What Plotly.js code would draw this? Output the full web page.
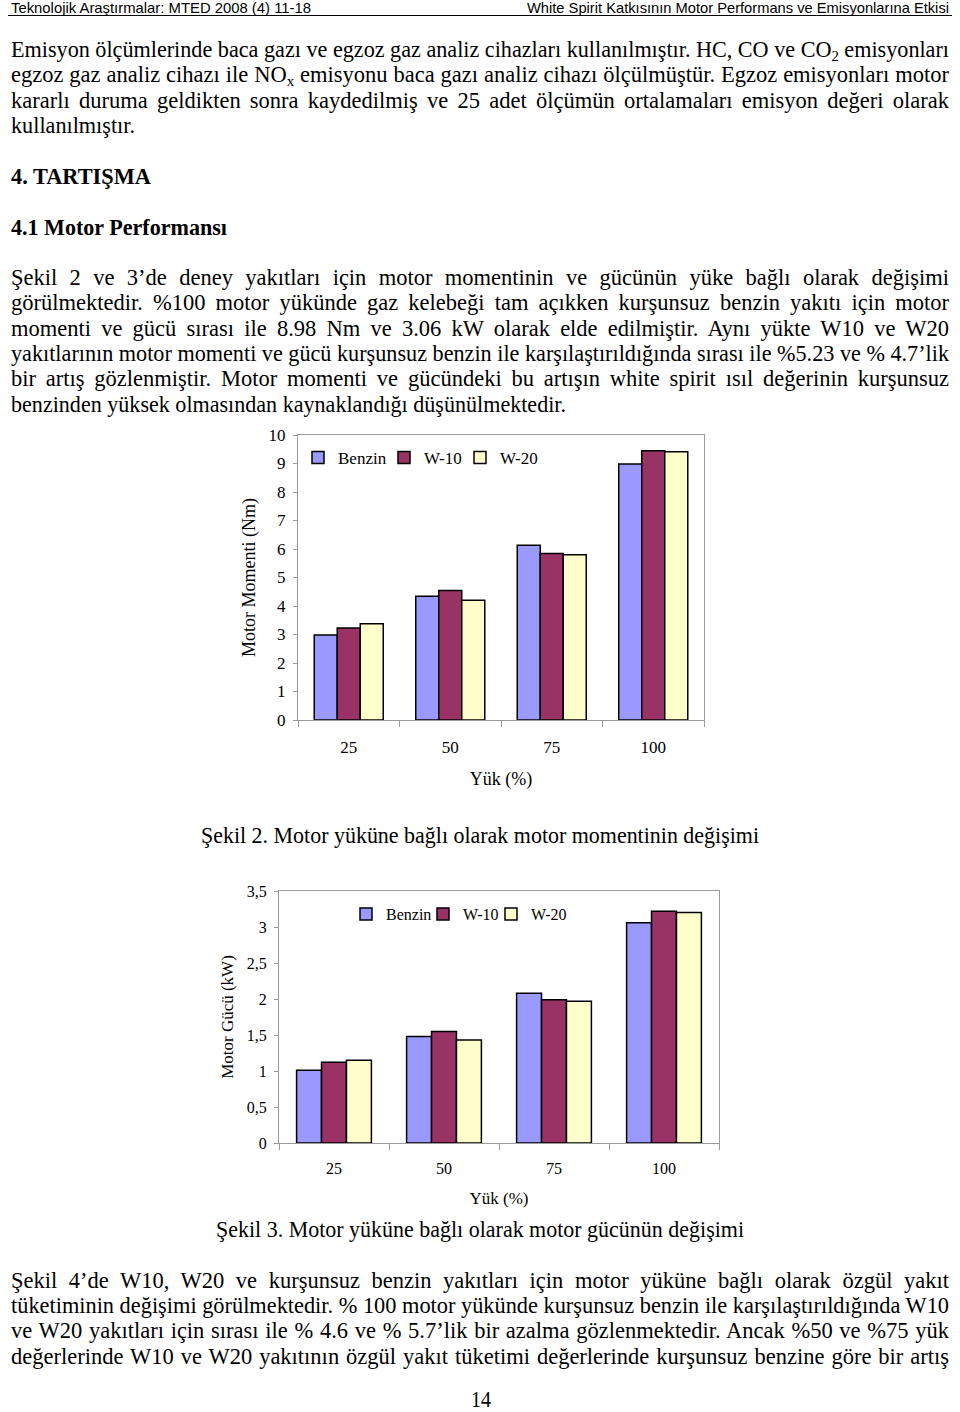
<!DOCTYPE html>
<html><head><meta charset="utf-8">
<script src="https://cdn.plot.ly/plotly-3.0.1.min.js"></script>
<style>
html,body{margin:0;padding:0;background:#fff;}
#page{position:relative;width:960px;height:1412px;overflow:hidden;background:#fff;}
.ln{position:absolute;white-space:nowrap;font-family:"Liberation Serif","Times New Roman",serif;font-size:22.5px;line-height:18px;color:#000;transform-origin:0 50%;}
.ln sub{font-size:15px;line-height:0;vertical-align:-4px;}
.hd{font-family:"Liberation Sans",Arial,sans-serif;font-size:14.5px;line-height:14px;}
.pn{line-height:14px;}
.chart{position:absolute;left:0;width:960px;}
</style></head>
<body><div id="page">
<div id="hline" style="position:absolute;left:8px;top:15px;width:944px;height:1px;background:#000;"></div>
<div id="chart1" class="chart" style="top:420px;height:380px;"></div>
<div id="chart2" class="chart" style="top:870px;height:345px;"></div>
</div>
<script>
// ---- data ----
const loads = ["25", "50", "75", "100"];
const seriesNames = ["Benzin", "W-10", "W-20"];
const seriesColors = ["#9999FF", "#993366", "#FFFFCC"];
const torqueBenzin = [2.98, 4.34, 6.13, 8.98];
const torqueW10 = [3.23, 4.54, 5.84, 9.45];
const torqueW20 = [3.38, 4.20, 5.80, 9.41];
const powerBenzin = [1.01, 1.48, 2.08, 3.06];
const powerW10 = [1.12, 1.55, 1.99, 3.22];
const powerW20 = [1.15, 1.43, 1.97, 3.20];

// ---- page text ----
// [html, centerY, left, width, justify, bold, cls]
const lines = [
 ["Teknolojik Araştırmalar: MTED 2008 (4) 11-18", 7.5, 11, 300, false, false, "hd"],
 ["White Spirit Katkısının Motor Performans ve Emisyonlarına Etkisi", 7.5, 527, 422, false, false, "hd"],
 ["Emisyon ölçümlerinde baca gazı ve egzoz gaz analiz cihazları kullanılmıştır. HC, CO ve CO<sub>2</sub> emisyonları", 50, 11, 938, true],
 ["egzoz gaz analiz cihazı ile NO<sub>x</sub> emisyonu baca gazı analiz cihazı ölçülmüştür. Egzoz emisyonları motor", 75, 11, 938, true],
 ["kararlı duruma geldikten sonra kaydedilmiş ve 25 adet ölçümün ortalamaları emisyon değeri olarak", 101, 11, 938, true],
 ["kullanılmıştır.", 126, 11, 124, false],
 ["4. TARTIŞMA", 177, 11, 140, false, true],
 ["4.1 Motor Performansı", 228, 11, 216, false, true],
 ["Şekil 2 ve 3’de deney yakıtları için motor momentinin ve gücünün yüke bağlı olarak değişimi", 278, 11, 938, true],
 ["görülmektedir. %100 motor yükünde gaz kelebeği tam açıkken kurşunsuz benzin yakıtı için motor", 303, 11, 938, true],
 ["momenti ve gücü sırası ile 8.98 Nm ve 3.06 kW olarak elde edilmiştir. Aynı yükte W10 ve W20", 329, 11, 938, true],
 ["yakıtlarının motor momenti ve gücü kurşunsuz benzin ile karşılaştırıldığında sırası ile %5.23 ve % 4.7’lik", 354, 11, 938, true],
 ["bir artış gözlenmiştir. Motor momenti ve gücündeki bu artışın white spirit ısıl değerinin kurşunsuz", 379, 11, 938, true],
 ["benzinden yüksek olmasından kaynaklandığı düşünülmektedir.", 405, 11, 555, false],
 ["Şekil 2. Motor yüküne bağlı olarak motor momentinin değişimi", 836, 201, 558, false],
 ["Şekil 3. Motor yüküne bağlı olarak motor gücünün değişimi", 1230, 216, 528, false],
 ["Şekil 4’de W10, W20 ve kurşunsuz benzin yakıtları için motor yüküne bağlı olarak özgül yakıt", 1281, 11, 938, true],
 ["tüketiminin değişimi görülmektedir. % 100 motor yükünde kurşunsuz benzin ile karşılaştırıldığında W10", 1306, 11, 938, true],
 ["ve W20 yakıtları için sırası ile % 4.6 ve % 5.7’lik bir azalma gözlenmektedir. Ancak %50 ve %75 yük", 1331, 11, 938, true],
 ["değerlerinde W10 ve W20 yakıtının özgül yakıt tüketimi değerlerinde kurşunsuz benzine göre bir artış", 1357, 11, 938, true],
 ["14", 1400, 471, 20, false, false, "pn"]
];
const page = document.getElementById('page');
const els = lines.map(function(l){
  const d = document.createElement('div');
  d.className = 'ln' + (l[6] ? ' ' + l[6] : '');
  d.innerHTML = l[0];
  if (l[5]) d.style.fontWeight = 'bold';
  d.style.left = l[2] + 'px';
  page.appendChild(d);
  return d;
});
function fit(){
  lines.forEach(function(l, i){
    const d = els[i];
    d.style.transform = 'none'; d.style.wordSpacing = '0px';
    const h = d.offsetHeight;
    d.style.top = (l[1] - h/2) + 'px';
    const w = d.getBoundingClientRect().width;
    const target = l[3];
    if (l[4]) {
      const n = (d.textContent.match(/ /g) || []).length;
      if (w < target && n > 0) { d.style.wordSpacing = ((target - w)/n) + 'px'; }
      else if (w > target) { d.style.transform = 'scaleX(' + (target/w) + ')'; }
    } else {
      d.style.transform = 'scaleX(' + (target/w) + ')';
    }
  });
}
fit();
if (document.fonts && document.fonts.ready) document.fonts.ready.then(fit);

// ---- charts ----
const FONT = "Liberation Serif, Times New Roman, serif";
const legendKeys = ['legend', 'legend2', 'legend3'];
function makeTraces(vals){
  return vals.map(function(v, i){
    return {type:'bar', x:loads, y:v, name:seriesNames[i], legend:legendKeys[i],
      marker:{color:seriesColors[i], line:{color:'#000', width:1.5}}};
  });
}
function axisBase(){
  return {showgrid:false, zeroline:false, showline:true, linecolor:'#9a9a9a', linewidth:1,
    mirror:true, ticks:'outside', tickcolor:'#9a9a9a', ticklen:5, tickfont:{family:FONT, size:17, color:'#000'}};
}
function legendAt(xPaper, yPaper, size){
  return {orientation:'h', x:xPaper, y:yPaper, xanchor:'left', yanchor:'middle', bgcolor:'rgba(0,0,0,0)',
    font:{family:FONT, size:size, color:'#000'}, itemwidth:30};
}
// chart 1 plot area: x 298..704, y 435..720
const x1 = Object.assign(axisBase(), {type:'category', tickson:'boundaries', ticklen:6, ticklabelstandoff:12,
  title:{text:'Yük (%)', font:{family:FONT, size:18, color:'#000'}, standoff:15}});
const y1 = Object.assign(axisBase(), {range:[0,10], dtick:1, ticklen:4, ticklabelstandoff:4,
  title:{text:'Motor Momenti (Nm)', font:{family:FONT, size:18, color:'#000'}, standoff:8}});
const lg1y = (720 - 458) / 285;
Plotly.newPlot('chart1', makeTraces([torqueBenzin, torqueW10, torqueW20]), {
  width:960, height:380, margin:{l:298, r:256, t:15, b:80},
  paper_bgcolor:'rgba(0,0,0,0)', plot_bgcolor:'#fff',
  barmode:'group', bargap:0.32, bargroupgap:0,
  font:{family:FONT, color:'#000'},
  showlegend:true,
  legend:legendAt((298-298)/406, lg1y, 17),
  legend2:legendAt((384-298)/406, lg1y, 17),
  legend3:legendAt((460-298)/406, lg1y, 17),
  xaxis:x1, yaxis:y1
}, {staticPlot:true, displayModeBar:false});

// chart 2 plot area: x 279..719, y 891..1143
const x2 = Object.assign(axisBase(), {type:'category', tickson:'boundaries', ticklen:6, ticklabelstandoff:11,
  tickfont:{family:FONT, size:16, color:'#000'},
  title:{text:'Yük (%)', font:{family:FONT, size:17, color:'#000'}, standoff:15}});
const y2 = Object.assign(axisBase(), {range:[0,3.5], dtick:0.5, ticklen:4, ticklabelstandoff:4,
  tickfont:{family:FONT, size:16, color:'#000'},
  title:{text:'Motor Gücü (kW)', font:{family:FONT, size:17, color:'#000'}, standoff:8}});
const lg2y = (1143 - 914) / 252;
Plotly.newPlot('chart2', makeTraces([powerBenzin, powerW10, powerW20]), {
  width:960, height:345, margin:{l:279, r:241, t:21, b:72},
  paper_bgcolor:'rgba(0,0,0,0)', plot_bgcolor:'#fff',
  separators:',.',
  barmode:'group', bargap:0.32, bargroupgap:0,
  font:{family:FONT, color:'#000'},
  showlegend:true,
  legend:legendAt((346-279)/440, lg2y, 16),
  legend2:legendAt((423-279)/440, lg2y, 16),
  legend3:legendAt((491-279)/440, lg2y, 16),
  xaxis:x2, yaxis:y2
}, {staticPlot:true, displayModeBar:false});
</script>
</body></html>
